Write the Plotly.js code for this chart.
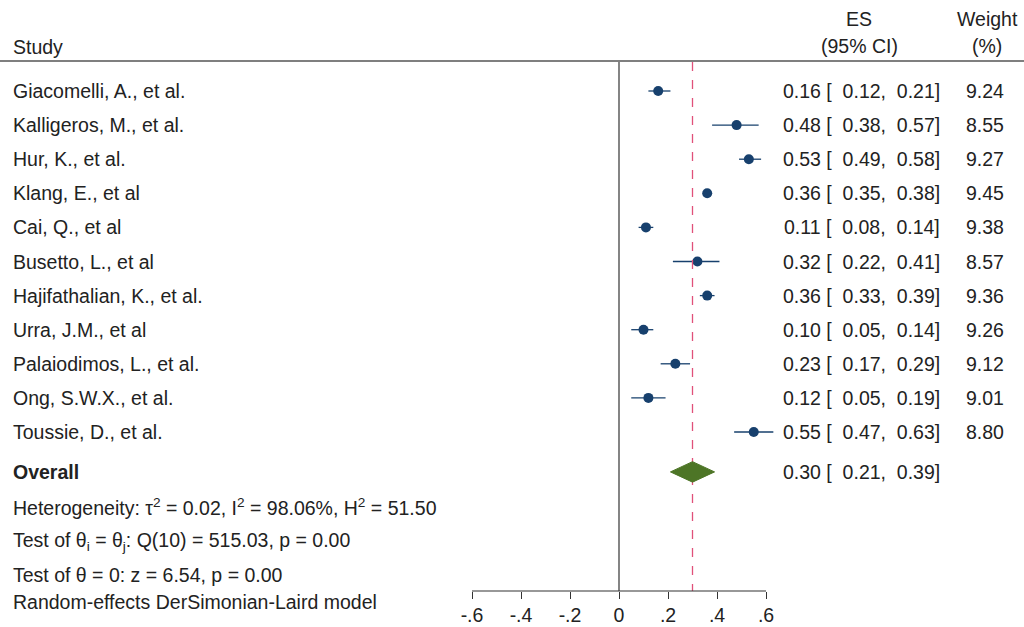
<!DOCTYPE html>
<html><head><meta charset="utf-8">
<script src="https://cdn.plot.ly/plotly-3.0.1.min.js"></script>
<style>body{margin:0;background:#fff}#c{width:1024px;height:627px}</style>
</head><body><div id="c"></div>
<script>
const studies=["Giacomelli, A., et al.","Kalligeros, M., et al.","Hur, K., et al.","Klang, E., et al","Cai, Q., et al","Busetto, L., et al","Hajifathalian, K., et al.","Urra, J.M., et al","Palaiodimos, L., et al.","Ong, S.W.X., et al.","Toussie, D., et al."];
const es=[0.16,0.48,0.53,0.36,0.11,0.32,0.36,0.10,0.23,0.12,0.55];
const lo=[0.12,0.38,0.49,0.35,0.08,0.22,0.33,0.05,0.17,0.05,0.47];
const hi=[0.21,0.57,0.58,0.38,0.14,0.41,0.39,0.14,0.29,0.19,0.63];
const weight=[9.24,8.55,9.27,9.45,9.38,8.57,9.36,9.26,9.12,9.01,8.80];
const overall={es:0.30,lo:0.21,hi:0.39};
const tickVals=[-0.6,-0.4,-0.2,0,0.2,0.4,0.6];
const tickText=["-.6","-.4","-.2","0",".2",".4",".6"];

const rows=studies.map((_,i)=>i);
const ovRow=11.17;
const axisRow=(591-91)/34.1;
const F={family:"Liberation Sans, Arial, sans-serif",size:19.5,color:"#222"};
const f2=v=>v.toFixed(2);
const ann=[];
const A=(x,y,t,xa,extra)=>ann.push(Object.assign({x:x,y:y,xref:'paper',yref:'y',text:t,showarrow:false,xanchor:xa,yanchor:'middle',font:F},extra||{}));
const px=p=>p/1024;
studies.forEach((s,i)=>{
  A(px(11),i,s,'left');
  A(px(942),i,f2(es[i])+" [  "+f2(lo[i])+",  "+f2(hi[i])+"]",'right');
  A(px(985),i,weight[i].toFixed(2),'center');
});
A(px(11),ovRow,"<b>Overall</b>",'left');
A(px(942),ovRow,f2(overall.es)+" [  "+f2(overall.lo)+",  "+f2(overall.hi)+"]",'right');
const toRow=p=>(p-91)/34.1;
A(px(11),toRow(507),"Heterogeneity: τ<sup>2</sup> = 0.02, I<sup>2</sup> = 98.06%, H<sup>2</sup> = 51.50",'left');
A(px(11),toRow(541),"Test of θ<sub>i</sub> = θ<sub>j</sub>: Q(10) = 515.03, p = 0.00",'left');
A(px(11),toRow(575),"Test of θ = 0: z = 6.54, p = 0.00",'left');
A(px(11),toRow(602),"Random-effects DerSimonian-Laird model",'left');
A(px(11),toRow(47),"Study",'left');
A(px(859),toRow(19),"ES",'center');
A(px(859),toRow(46),"(95% CI)",'center');
A(px(987),toRow(19),"Weight",'center');
A(px(987),toRow(46),"(%)",'center');

const shapes=[
 {type:'line',xref:'paper',yref:'y',x0:0,x1:1,y0:toRow(61),y1:toRow(61),line:{color:'#555',width:1.5}},
 {type:'line',xref:'x',yref:'y',x0:0,x1:0,y0:toRow(62),y1:axisRow,line:{color:'#333',width:1.2}},
 {type:'line',xref:'x',yref:'y',x0:overall.es,x1:overall.es,y0:toRow(62),y1:axisRow,line:{color:'#e0517a',width:1.3,dash:'dash'}},
 {type:'line',xref:'x',yref:'y',x0:tickVals[0],x1:tickVals[tickVals.length-1],y0:axisRow,y1:axisRow,line:{color:'#333',width:1.2}},
 {type:'path',xref:'x',yref:'y',path:`M${overall.lo},${ovRow} L${overall.es},${ovRow-0.3} L${overall.hi},${ovRow} L${overall.es},${ovRow+0.3} Z`,fillcolor:'#4d7526',line:{color:'#4d7526',width:1}}
];
const x0=-619/245, x1=(1024-619)/245;
const trace={x:es,y:rows,type:'scatter',mode:'markers',
 marker:{color:'#17406d',size:10},
 error_x:{type:'data',symmetric:false,array:hi.map((h,i)=>h-es[i]),arrayminus:lo.map((l,i)=>es[i]-l),color:'#17406d',thickness:1.3,width:0},
 hoverinfo:'skip'};
Plotly.newPlot('c',[trace],{
 width:1024,height:627,margin:{l:0,r:0,t:0,b:0},showlegend:false,
 paper_bgcolor:'#fff',plot_bgcolor:'#fff',
 xaxis:{range:[x0,x1],anchor:'free',position:1-591/627,showgrid:false,zeroline:false,showline:false,
   tickvals:tickVals,ticktext:tickText,ticks:'outside',ticklen:7,tickcolor:'#333',tickfont:F},
 yaxis:{range:[toRow(627),toRow(0)],visible:false,showgrid:false,zeroline:false},
 annotations:ann,shapes:shapes
},{staticPlot:true});
</script></body></html>
